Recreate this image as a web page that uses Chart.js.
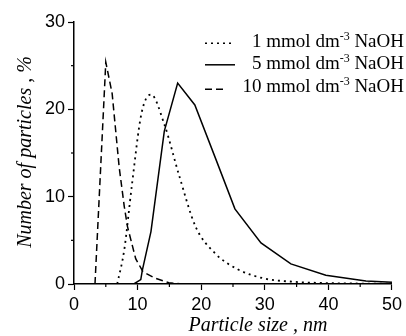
<!DOCTYPE html>
<html>
<head>
<meta charset="utf-8">
<script src="https://cdn.jsdelivr.net/npm/chart.js@4.4.0/dist/chart.umd.min.js"></script>
<style>
  html, body { margin: 0; padding: 0; background: #fff; }
  #wrap { width: 406px; height: 336px; }
</style>
</head>
<body>
<div id="wrap"><canvas id="psd" width="406" height="336"></canvas></div>
<script>
// particle size distribution
const labels = ['1 mmol dm', '5 mmol dm', '10 mmol dm'];

const size1 = [6.8, 7.9, 9.1, 10.6, 12.1, 14.2, 16.5, 19.1, 22.2, 25.7, 29.8, 34.6, 40.1, 46.5, 50];
const pct1  = [0, 3.9, 11.3, 19.5, 21.7, 18.3, 12.5, 6.6, 3.5, 1.7, 0.65, 0.25, 0.1, 0.05, 0.05];

const size2 = [0, 9.4, 10.5, 10.75, 12.1, 14.2, 16.3, 19.0, 22.3, 25.3, 29.4, 34.1, 39.6, 45.9, 50];
const pct2  = [0, 0, 0.5, 1.6, 6.0, 17.5, 23.0, 20.5, 14.3, 8.6, 4.7, 2.3, 1.0, 0.35, 0.2];

const size3 = [3.3, 5.0, 6.0, 7.1, 7.9, 8.4, 9.7, 10.85, 12.8, 14.9, 17, 20];
const pct3  = [0, 25.4, 21.8, 13.4, 8.9, 6.6, 2.9, 1.4, 0.65, 0.15, 0, 0];

const xTicks = [0, 10, 20, 30, 40, 50];
const yTicks = [0, 10, 20, 30];

const toPts = (xs, ys) => xs.map((x, i) => ({ x: x, y: ys[i] }));

const serif = '"Liberation Serif", "Times New Roman", serif';
const sans = '"Liberation Sans", Arial, sans-serif';

const dashes = [[2, 4], [], [7, 4]];

const extras = {
  id: 'extras',
  afterDraw(chart) {
    const ctx = chart.ctx;
    const xs = chart.scales.x, ys = chart.scales.y;
    const area = chart.chartArea;
    ctx.save();
    ctx.strokeStyle = '#000';
    ctx.lineWidth = 1.2;
    // minor ticks
    for (let v = 5; v < 50; v += 10) {
      const px = xs.getPixelForValue(v);
      ctx.beginPath(); ctx.moveTo(px, area.bottom); ctx.lineTo(px, area.bottom + 3); ctx.stroke();
    }
    for (let v = 5; v < 30; v += 10) {
      const py = ys.getPixelForValue(v);
      ctx.beginPath(); ctx.moveTo(area.left, py); ctx.lineTo(area.left - 3, py); ctx.stroke();
    }

    // axis titles
    ctx.fillStyle = '#000';
    ctx.font = 'italic 20px ' + serif;
    ctx.textAlign = 'center';
    ctx.textBaseline = 'alphabetic';
    ctx.fillText('Particle size , nm', 258, 331);
    ctx.save();
    ctx.translate(31, 152);
    ctx.rotate(-Math.PI / 2);
    ctx.fillText('Number of particles , %', 0, 0);
    ctx.restore();

    // legend
    const rows = [46.7, 69.3, 91.7];
    const right = 404;
    rows.forEach((base, i) => {
      ctx.font = '19px ' + serif;
      const tail = ' NaOH';
      const wMain = ctx.measureText(labels[i]).width;
      const wTail = ctx.measureText(tail).width;
      ctx.font = '12px ' + serif;
      const wSup = ctx.measureText('-3').width;
      const start = right - wMain - wSup - wTail;
      ctx.textAlign = 'left';
      ctx.font = '19px ' + serif;
      ctx.fillText(labels[i], start, base);
      ctx.fillText(tail, start + wMain + wSup, base);
      ctx.font = '12px ' + serif;
      ctx.fillText('-3', start + wMain, base - 7);

      const sample = [[205, 232], [205, 235], [205, 223]][i];
      const sy = base - [3.5, 4.5, 2.5][i];
      ctx.setLineDash(dashes[i]);
      ctx.lineWidth = 1.5;
      ctx.beginPath(); ctx.moveTo(sample[0], sy); ctx.lineTo(sample[1], sy); ctx.stroke();
      ctx.setLineDash([]);
    });
    ctx.restore();
  }
};

const series = [toPts(size1, pct1), toPts(size2, pct2), toPts(size3, pct3)];

new Chart(document.getElementById('psd'), {
  type: 'line',
  data: {
    datasets: series.map((pts, i) => ({
      label: labels[i],
      data: pts,
      borderColor: '#000',
      borderWidth: i === 0 ? 1.8 : 1.5,
      borderDash: dashes[i],
      pointRadius: 0,
      fill: false,
      tension: i === 0 ? 0.35 : 0,
      cubicInterpolationMode: i === 0 ? 'monotone' : 'default'
    }))
  },
  options: {
    responsive: false,
    animation: false,
    layout: { padding: { top: 22, right: 13, left: 0, bottom: 0 } },
    plugins: { legend: { display: false }, tooltip: { enabled: false } },
    scales: {
      x: {
        type: 'linear',
        min: 0, max: 50,
        afterFit: s => { s.height = 52; },
        afterBuildTicks: s => { s.ticks = xTicks.map(v => ({ value: v })); },
        border: { color: '#000', width: 1.5 },
        grid: { drawOnChartArea: false, tickLength: 6, tickColor: '#000', tickWidth: 1.2 },
        ticks: { color: '#000', padding: 4, font: { family: sans, size: 18 }, maxRotation: 0 }
      },
      y: {
        min: 0, max: 30,
        afterFit: s => { s.width = 74; },
        afterBuildTicks: s => { s.ticks = yTicks.map(v => ({ value: v })); },
        border: { color: '#000', width: 1.5 },
        grid: { drawOnChartArea: false, tickLength: 6, tickColor: '#000', tickWidth: 1.2 },
        ticks: { color: '#000', padding: 3, font: { family: sans, size: 18 } }
      }
    }
  },
  plugins: [extras]
});
</script>
</body>
</html>
